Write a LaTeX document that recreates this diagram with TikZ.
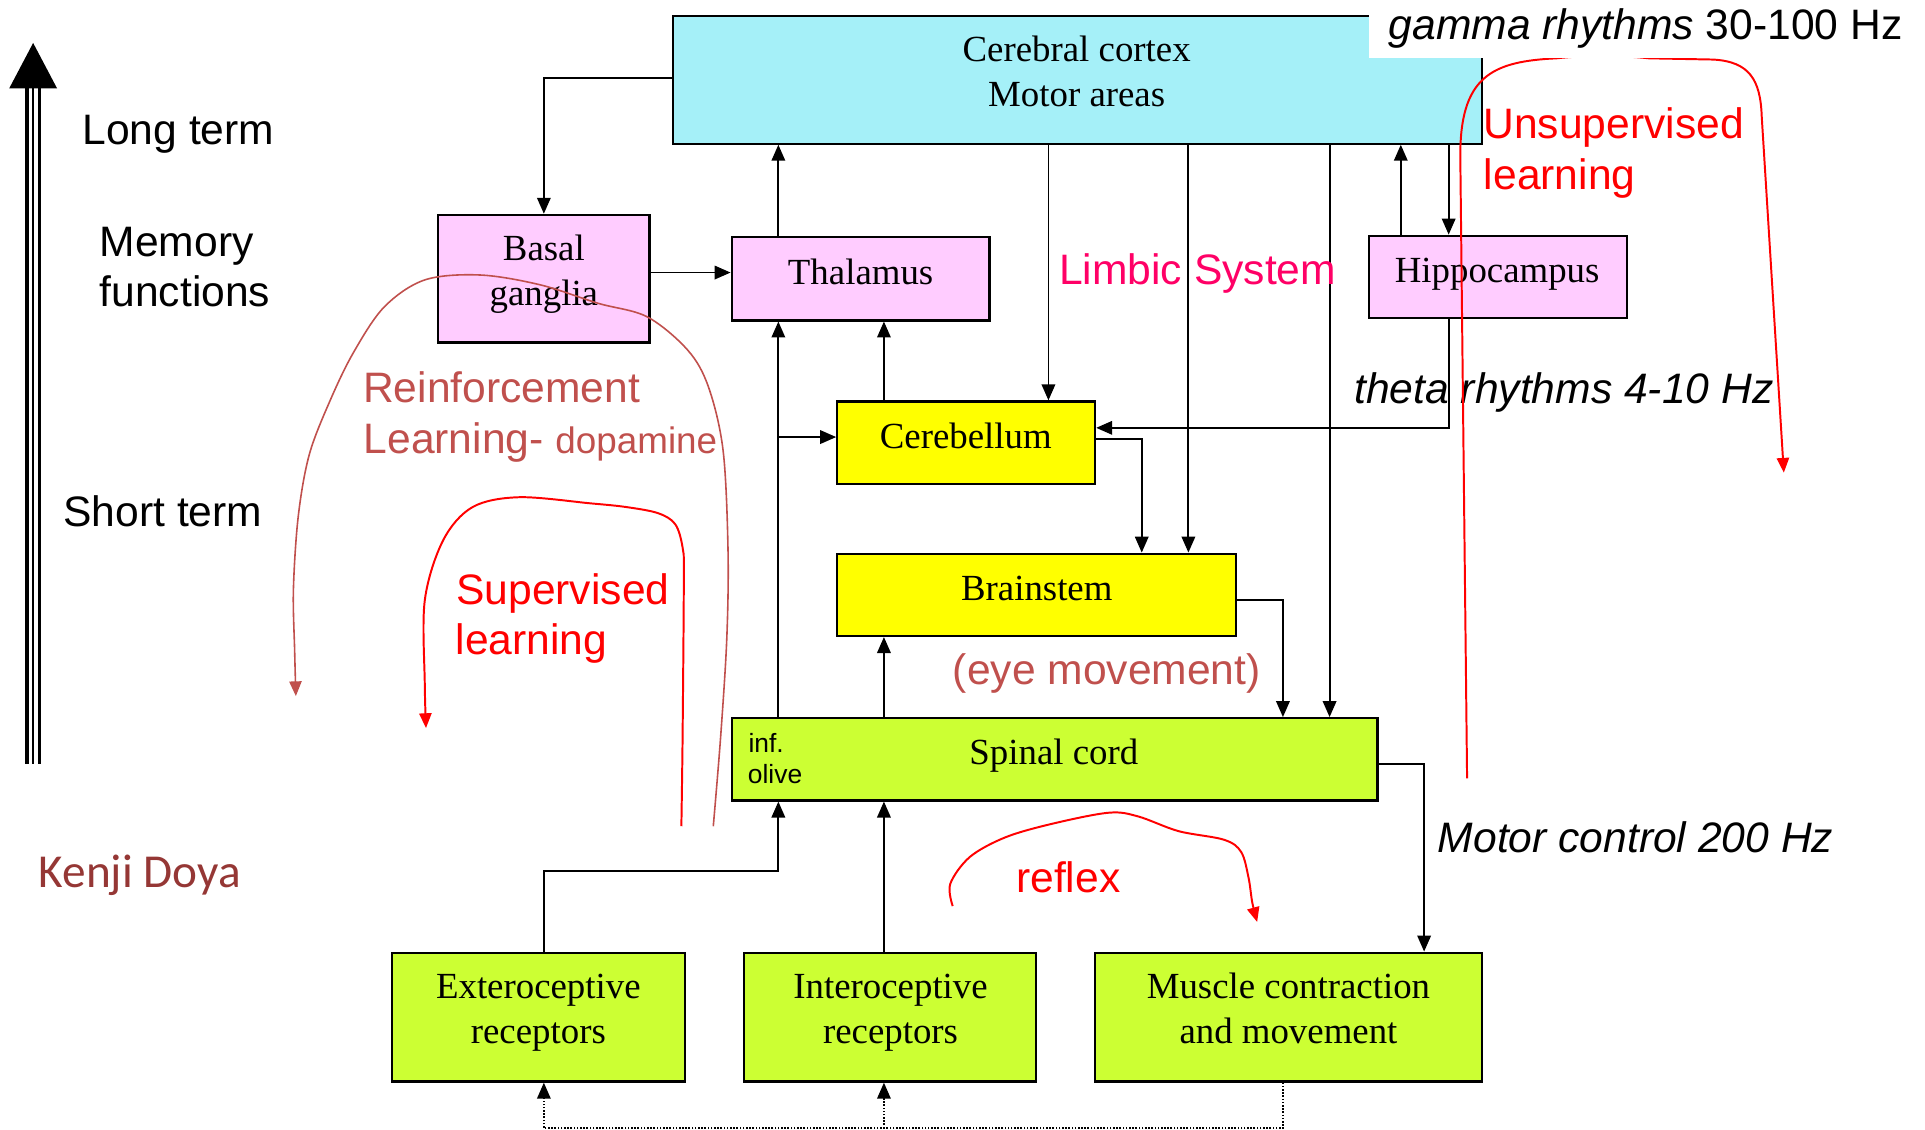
\documentclass[tikz,border=0pt]{standalone}
\usepackage{fontspec}
\setmainfont{Liberation Serif}
\newfontfamily\sansfam{Liberation Sans}
\newfontfamily\calfam{Carlito}
\usetikzlibrary{arrows.meta}

\definecolor{cortexcyan}{RGB}{165,240,248}
\definecolor{boxpink}{RGB}{255,204,255}
\definecolor{boxyellow}{RGB}{255,255,0}
\definecolor{boxgreen}{RGB}{204,255,51}
\definecolor{limbic}{RGB}{255,0,102}
\definecolor{rlred}{RGB}{192,80,77}
\definecolor{authorred}{RGB}{149,55,53}

\newcommand{\bxfont}{\fontsize{30}{36}\selectfont}
\newcommand{\anfont}{\sansfam\fontsize{34.7}{41}\selectfont}

\tikzset{
  bx/.style={draw=black, line width=1.8pt, inner sep=0pt},
  bxtxt/.style={font=\bxfont, inner sep=0pt, anchor=base},
  ann/.style={font=\anfont, inner sep=0pt, anchor=base west},
  conn/.style={line width=1.5pt, -{Triangle[length=13pt,width=11pt]}},
  dotconn/.style={line width=1.3pt, dash pattern=on 1.3pt off 1.3pt,
                  -{Triangle[length=13pt,width=11pt]}},
  learn/.style={red, line width=1.6pt, -{Triangle[length=12pt,width=10pt]}},
}

\begin{document}
\begin{tikzpicture}[x=1pt,y=-1pt]
\useasboundingbox (0,0) rectangle (1568,920);

% ---- time-scale arrow on the left
\draw[line width=3pt]   (21.8,622) -- (21.8,70);
\draw[line width=2.2pt] (27,622) -- (27,70);
\draw[line width=3pt]   (32.2,622) -- (32.2,70);
\fill (27,35) -- (46.5,72) -- (7.5,72) -- cycle;

\node[ann] (longterm)  at (67,117.5)  {Long term};
\node[ann] (memA)      at (81,209)    {Memory};
\node[ann] (memB)      at (81,250)    {functions};
\node[ann] (shortterm) at (51.5,428.5) {Short term};
\node[font=\calfam\fontsize{38.5}{44}\selectfont, text=authorred, inner sep=0pt,
      anchor=base west] (author) at (31.5,722.5) {Kenji Doya};

% ---- boxes
\node[bx, fill=cortexcyan, minimum width=659pt, minimum height=104pt] (cortex) at (877.5,65) {};
\node[bx, fill=boxpink,   minimum width=172pt, minimum height=104pt] (basal)  at (443,227) {};
\node[bx, fill=boxpink,   minimum width=210pt, minimum height=68pt]  (thal)   at (701,227) {};
\node[bx, fill=boxpink,   minimum width=210pt, minimum height=67pt]  (hippo)  at (1220,225.5) {};
\node[bx, fill=boxyellow, minimum width=210pt, minimum height=67pt]  (cereb)  at (787,360.5) {};
\node[bx, fill=boxyellow, minimum width=325pt, minimum height=67pt]  (brain)  at (844.5,484.5) {};
\node[bx, fill=boxgreen,  minimum width=526pt, minimum height=67pt]  (spinal) at (859,618.5) {};
\node[bx, fill=boxgreen,  minimum width=239pt, minimum height=105pt] (extero) at (438.5,828.5) {};
\node[bx, fill=boxgreen,  minimum width=238pt, minimum height=105pt] (intero) at (725,828.5) {};
\node[bx, fill=boxgreen,  minimum width=315pt, minimum height=105pt] (muscle) at (1049.5,828.5) {};

% ---- routing positions of the connectors
\coordinate (xA) at (634,0);
\coordinate (xB) at (720,0);
\coordinate (xC) at (854,0);
\coordinate (xD) at (968,0);
\coordinate (xE) at (1083,0);
\coordinate (xF) at (1141,0);
\coordinate (xG) at (1180,0);
\coordinate (xH) at (930,0);
\coordinate (xI) at (1045,0);
\coordinate (xJ) at (1160,0);
\coordinate (xK) at (443,0);
\coordinate (yA) at (0,222);
\coordinate (yB) at (0,348.5);
\coordinate (yC) at (0,357.5);
\coordinate (yD) at (0,356);
\coordinate (yE) at (0,489);
\coordinate (yF) at (0,622);
\coordinate (yG) at (0,709.5);
\coordinate (yH) at (0,919);
\coordinate (yI) at (0,63.5);

% ---- connectors
\draw[conn] (cortex.west |- yI) -| (basal.north -| xK);
\draw[conn] (basal.east |- yA) -- (thal.west |- yA);
\draw[conn] (thal.north -| xA) -- (cortex.south -| xA);
\draw[conn] (cortex.south -| xC) -- (cereb.north -| xC);
\draw[conn] (cortex.south -| xD) -- (brain.north -| xD);
\draw[conn] (cortex.south -| xE) -- (spinal.north -| xE);
\draw[conn] (hippo.north -| xF) -- (cortex.south -| xF);
\draw[conn] (cortex.south -| xG) -- (hippo.north -| xG);
\draw[conn] (hippo.south -| xG) |- (cereb.east |- yB);
\draw[conn] (cereb.east |- yC) -| (brain.north -| xH);
\draw[conn] (cereb.north -| xB) -- (thal.south -| xB);
\draw[conn] (spinal.north -| xA) -- (thal.south -| xA);
\draw[conn] (xA |- yD) -- (cereb.west |- yD);
\draw[conn] (spinal.north -| xB) -- (brain.south -| xB);
\draw[conn] (brain.east |- yE) -| (spinal.north -| xI);
\draw[conn] (spinal.east |- yF) -| (muscle.north -| xJ);
\draw[conn] (extero.north -| xK) |- (xA |- yG) -- (spinal.south -| xA);
\draw[conn] (intero.north -| xB) -- (spinal.south -| xB);
\draw[dotconn] (muscle.south -| xI) |- (xK |- yH) -- (extero.south -| xK);
\draw[dotconn] (xB |- yH) -- (intero.south -| xB);

% ---- box labels
\node[bxtxt] (cortexA) at (877,50.5)   {Cerebral cortex};
\node[bxtxt] (cortexB) at (877,87)     {Motor areas};
\node[bxtxt] (basalA)  at (443,212.5)  {Basal};
\node[bxtxt] (basalB)  at (443,249)    {ganglia};
\node[bxtxt] (thalT)   at (701,231.5)  {Thalamus};
\node[bxtxt] (hippoT)  at (1219.5,230) {Hippocampus};
\node[bxtxt] (cerebT)  at (786.7,365.3) {Cerebellum};
\node[bxtxt] (brainT)  at (844.5,489)  {Brainstem};
\node[bxtxt] (spinalT) at (858.4,622.4) {Spinal cord};
\node[font=\sansfam\fontsize{21.5}{26}\selectfont, inner sep=0pt, anchor=base west]
      (oliveA) at (609.5,613) {inf.};
\node[font=\sansfam\fontsize{21.5}{26}\selectfont, inner sep=0pt, anchor=base west]
      (oliveB) at (609,638) {olive};
\node[bxtxt] (exteroA) at (438.5,813.7) {Exteroceptive};
\node[bxtxt] (exteroB) at (438.5,850)   {receptors};
\node[bxtxt] (interoA) at (725.4,813.7) {Interoceptive};
\node[bxtxt] (interoB) at (725.4,850.2) {receptors};
\node[bxtxt] (muscleA) at (1049.5,813.7) {Muscle contraction};
\node[bxtxt] (muscleB) at (1049.5,850.2) {and movement};

% ---- annotations
\node[ann, text=limbic] (limbicT) at (862.5,232) {Limbic System};
\node[ann, text=red] (unsupA) at (1208,112.8) {Unsupervised};
\node[ann, text=red] (unsupB) at (1208.5,154.6) {learning};
\node[ann] (thetaT) at (1103,328.5) {\itshape theta rhythms 4-10 Hz};
\node[ann, text=rlred] (reinfA) at (295.6,327.7) {Reinforcement};
\node[ann, text=rlred] (reinfB) at (296,369.2)
      {Learning- {\fontsize{30}{36}\selectfont dopamine}};
\node[ann, text=red] (supA) at (371.5,492.6) {Supervised};
\node[ann, text=red] (supB) at (371,533.4) {learning};
\node[ann, text=rlred] (eyeT) at (776,557.8) {(eye movement)};
\node[ann, text=red] (reflexT) at (827.5,726.8) {reflex};
\node[ann] (motorT) at (1171,694.2) {\itshape Motor control 200 Hz};

% ---- learning loops
\draw[learn, rlred, line width=1.3pt] plot[smooth, tension=0.55] coordinates {
  (581,673) (587,600) (592,520) (593,448) (589,367) (577,315) (560,285)
  (527,258) (487,247) (440,232) (391,224) (346,228) (313,250) (288,287)
  (269,326) (252,370) (243,420) (239,480) (240,530) (241,567)};
\draw[learn] plot[smooth, tension=0.55] coordinates {
  (555,673) (556,600) (557,470) (556,446) (550,427) (536,418) (510,413)
  (481,410) (423,405) (385,413) (361,440) (346,489) (346,557) (347,593)};
\draw[learn] plot[smooth, tension=0.55] coordinates {
  (776,738) (774,720) (790,698) (819,682) (857,671) (903,662) (927,665)
  (960,677) (997,684) (1011,694) (1017,715) (1020,735) (1024,751)};
\draw[learn] (1195,634) -- (1189.5,130)
  .. controls (1188.5,62) and (1215,50) .. (1268,47.5)
  .. controls (1290,45) and (1320,45) .. (1343,47.5)
  -- (1395,48.5) .. controls (1425,50) and (1434,65) .. (1435,95)
  -- (1453,385);

% ---- gamma label on its white patch
\fill[white] (1115,0) rectangle (1568,47.5);
\node[ann] (gammaT) at (1131,32) {\itshape gamma rhythms \upshape 30-100 Hz};
\end{tikzpicture}
\end{document}
